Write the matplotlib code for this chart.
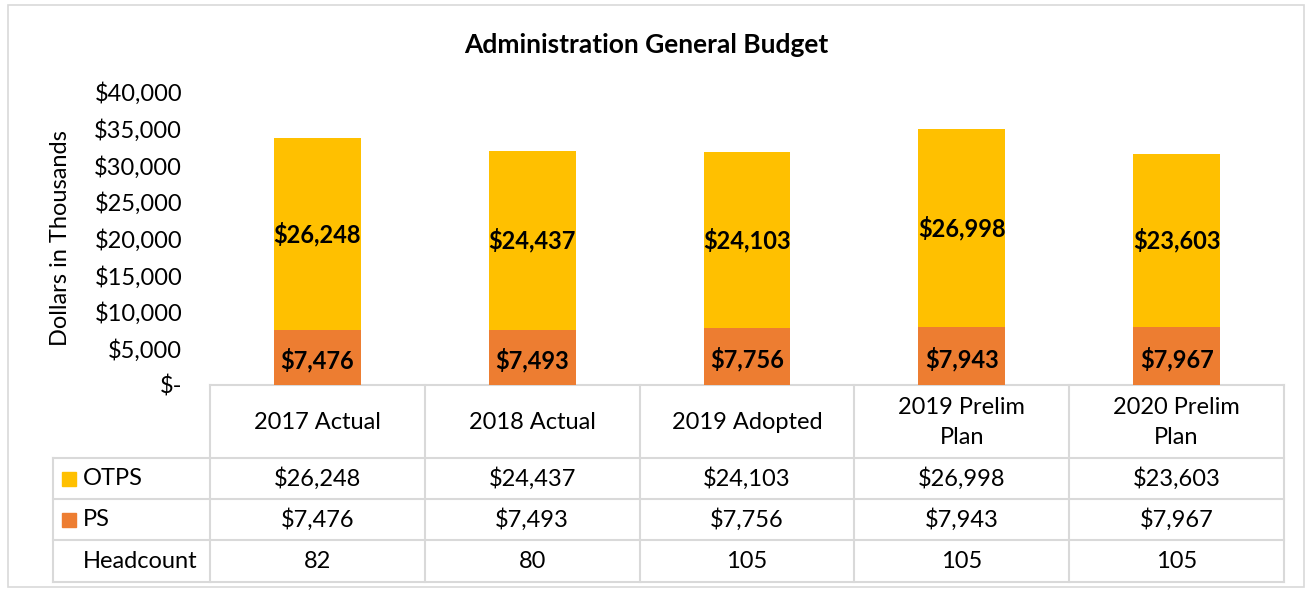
import matplotlib.pyplot as plt
from matplotlib.transforms import blended_transform_factory
from matplotlib.patches import Rectangle

plt.rcParams['font.family'] = ['Lato', 'DejaVu Sans']

categories = ['2017 Actual', '2018 Actual', '2019 Adopted', '2019 Prelim\nPlan', '2020 Prelim\nPlan']
ps = [7476, 7493, 7756, 7943, 7967]
otps = [26248, 24437, 24103, 26998, 23603]
headcount = [82, 80, 105, 105, 105]
yticks = [0, 5000, 10000, 15000, 20000, 25000, 30000, 35000, 40000]

ORANGE = '#ED7D31'
GOLD = '#FFC000'
GRID = '#d9d9d9'

W, H = 1310, 592
fig = plt.figure(figsize=(W / 100, H / 100), dpi=100)

# overlay in pixel coords for table + frame
ov = fig.add_axes([0, 0, 1, 1])
ov.set_xlim(0, W)
ov.set_ylim(H, 0)
ov.axis('off')
ov.add_patch(Rectangle((8, 5), 1296, 582, fill=False, ec=GRID, lw=1.2))

x0, x1, ytop, ybot = 210, 1284, 92, 385
ax = fig.add_axes([x0 / W, 1 - ybot / H, (x1 - x0) / W, (ybot - ytop) / H])
ax.set_zorder(2)
ax.patch.set_alpha(0)

xs = range(len(categories))
ax.bar(xs, ps, width=0.405, color=ORANGE)
ax.bar(xs, otps, width=0.405, bottom=ps, color=GOLD)
for i in xs:
    ax.text(i, ps[i] / 2 - 400, f'${ps[i]:,}', ha='center', va='center',
            fontsize=17, fontweight='bold')
    ax.text(i, ps[i] + otps[i] / 2, f'${otps[i]:,}', ha='center', va='center',
            fontsize=17, fontweight='bold')

ax.set_xlim(-0.5, len(categories) - 0.5)
ax.set_ylim(0, 40000)
ax.set_yticks(yticks)
ax.set_yticklabels(['$-'] + [f'${v:,}' for v in yticks[1:]], fontsize=17)
ax.tick_params(axis='y', length=0, pad=20)
ax.set_xticks([])
for s in ax.spines.values():
    s.set_visible(False)
ax.set_ylabel('Dollars in Thousands', fontsize=17)
ax.yaxis.set_label_coords(-0.141 + 12 / (x1 - x0), 0.5)

fig.text(646 / W, 1 - 45 / H, 'Administration General Budget',
         ha='center', va='center', fontsize=19, fontweight='bold')

# data table
tr = blended_transform_factory(ax.transData, ov.transData)
rows = [385, 458, 499, 540, 582]
lx = 53
col_edges = [x0 + (x1 - x0) * k / len(categories) for k in range(len(categories) + 1)]
ov.plot([x0, x1], [rows[0], rows[0]], color=GRID, lw=1.5)
for y in rows[1:]:
    ov.plot([lx, x1], [y, y], color=GRID, lw=1.5)
for cx in col_edges:
    ov.plot([cx, cx], [rows[0], rows[-1]], color=GRID, lw=1.5)
ov.plot([lx, lx], [rows[1], rows[-1]], color=GRID, lw=1.5)

for i, c in enumerate(categories):
    ov.text(i, (rows[0] + rows[1]) / 2 + 1, c, transform=tr, ha='center', va='center',
            fontsize=17, linespacing=1.5)
    ov.text(i, (rows[1] + rows[2]) / 2, f'${otps[i]:,}', transform=tr,
            ha='center', va='center', fontsize=17)
    ov.text(i, (rows[2] + rows[3]) / 2, f'${ps[i]:,}', transform=tr,
            ha='center', va='center', fontsize=17)
    ov.text(i, (rows[3] + rows[4]) / 2, str(headcount[i]), transform=tr,
            ha='center', va='center', fontsize=17)

labels = [('OTPS', GOLD), ('PS', ORANGE), ('Headcount', None)]
for k, (lab, col) in enumerate(labels):
    yc = (rows[k + 1] + rows[k + 2]) / 2
    if col:
        ov.add_patch(Rectangle((62, yc - 7), 14, 14, color=col))
    ov.text(83, yc, lab, ha='left', va='center', fontsize=17)

fig.savefig('out.png', dpi=100)
